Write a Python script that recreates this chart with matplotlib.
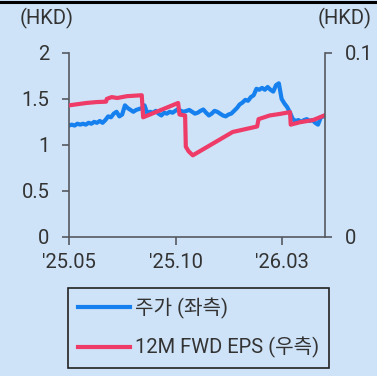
import matplotlib
matplotlib.use("Agg")
import matplotlib.pyplot as plt
from matplotlib.lines import Line2D
import pandas as pd

plt.rcParams['font.family'] = ['Roboto', 'Noto Sans CJK KR', 'DejaVu Sans']

# Share price (HKD, left axis), sampled every 4 days from 2025-05-01
price_start = "2025-05-01"
price_values = [
    1.21, 1.22, 1.21, 1.23, 1.22, 1.23, 1.22, 1.24, 1.23, 1.25,
    1.24, 1.26, 1.24, 1.27, 1.31, 1.30, 1.34, 1.36, 1.31, 1.33,
    1.43, 1.40, 1.38, 1.36, 1.38, 1.39, 1.40, 1.43, 1.34, 1.36,
    1.35, 1.37, 1.34, 1.32, 1.35, 1.34, 1.36, 1.35, 1.37, 1.39,
    1.37, 1.36, 1.37, 1.38, 1.36, 1.34, 1.35, 1.37, 1.385, 1.35,
    1.32, 1.34, 1.37, 1.36, 1.34, 1.32, 1.31, 1.33, 1.34, 1.37,
    1.40, 1.44, 1.46, 1.49, 1.48, 1.52, 1.54, 1.61, 1.60, 1.62,
    1.60, 1.63, 1.60, 1.58, 1.65, 1.67, 1.50, 1.45, 1.41, 1.35,
    1.28, 1.26, 1.27, 1.25, 1.27, 1.28, 1.26, 1.27, 1.24, 1.22,
    1.30, 1.31,
]

# 12M forward EPS (HKD, right axis)
eps_dates = [
    "2025-05-01", "2025-05-26", "2025-06-10", "2025-06-23", "2025-06-24",
    "2025-07-01", "2025-07-09", "2025-07-23", "2025-08-13", "2025-08-15",
    "2025-10-04", "2025-10-06", "2025-10-14", "2025-10-15", "2025-10-19",
    "2025-10-25", "2025-12-21", "2026-01-25", "2026-01-27", "2026-02-12",
    "2026-02-26", "2026-03-13", "2026-03-14", "2026-03-27", "2026-04-15",
    "2026-05-01",
]
eps_values = [
    0.0715, 0.0728, 0.0733, 0.0735, 0.0750,
    0.0760, 0.0755, 0.0765, 0.0770, 0.0650,
    0.0728, 0.0665, 0.0660, 0.0490, 0.0465,
    0.0443, 0.0570, 0.0600, 0.0640, 0.0660,
    0.0668, 0.0678, 0.0610, 0.0623, 0.0635,
    0.0660,
]

tick_dates = ["2025-05-01", "2025-10-01", "2026-03-01"]
tick_labels = ["'25.05", "'25.10", "'26.03"]
series_labels = ["주가 (좌측)", "12M FWD EPS (우측)"]

BG = "#cee3f8"
BLUE = "#1680ef"
PINK = "#ee3b68"
SPINE = "#555a60"
TEXT = "#333333"
FS = 14.5

price_dates = pd.date_range(price_start, periods=len(price_values), freq="4D")
eps_dt = pd.to_datetime(eps_dates)

fig = plt.figure(figsize=(3.77, 3.76), dpi=100, facecolor=BG)
ax = fig.add_axes([69 / 377, 1 - 236.7 / 376, (325 - 69) / 377, (236.7 - 53) / 376])
ax.set_facecolor(BG)
ax2 = ax.twinx()

l1, = ax.plot(price_dates, price_values, color=BLUE, lw=3.0, solid_joinstyle="round")
l2, = ax2.plot(eps_dt, eps_values, color=PINK, lw=3.0, solid_joinstyle="round")

ax.set_xlim(pd.Timestamp("2025-05-01"), pd.Timestamp("2026-05-02"))
ax.set_ylim(0, 2)
ax.set_yticks([0, 0.5, 1, 1.5, 2])
ax.set_yticklabels(["0", "0.5", "1", "1.5", "2"])
ax2.set_ylim(0, 0.1)
ax2.set_yticks([0, 0.1])
ax2.set_yticklabels(["0", "0.1"])

ax.set_xticks(pd.to_datetime(tick_dates))
ax.set_xticklabels(tick_labels)

for a in (ax, ax2):
    a.spines["top"].set_visible(False)
    for s in ("left", "right", "bottom"):
        a.spines[s].set_color(SPINE)
        a.spines[s].set_linewidth(1.2)
ax.spines["right"].set_visible(False)
ax2.spines["left"].set_visible(False)
ax2.spines["bottom"].set_visible(False)

ax.tick_params(axis="y", length=5, width=1.2, color=SPINE, pad=9, labelsize=FS, labelcolor=TEXT)
ax.tick_params(axis="x", length=6, width=1.2, color=SPINE, pad=6, labelsize=FS, labelcolor=TEXT)
ax2.tick_params(axis="y", length=5, width=1.2, color=SPINE, pad=9, labelsize=FS, labelcolor=TEXT)

fig.text(20 / 377, 1 - 18 / 376, "(HKD)", fontsize=FS, color=TEXT, ha="left", va="center")
fig.text(372 / 377, 1 - 18 / 376, "(HKD)", fontsize=FS, color=TEXT, ha="right", va="center")

fig.add_artist(Line2D([0, 1], [1 - 2 / 376, 1 - 2 / 376], color="black", lw=2.2,
                      transform=fig.transFigure))

leg = fig.legend([l1, l2], series_labels, loc="upper left",
                 bbox_to_anchor=(68 / 377, 1 - 288 / 376), borderaxespad=0,
                 fontsize=FS, frameon=True, fancybox=False, handlelength=2.6,
                 handletextpad=0.25, labelspacing=0.9, borderpad=0.48,
                 labelcolor=TEXT)
leg.get_frame().set_edgecolor("#222222")
leg.get_frame().set_linewidth(1.2)
leg.get_frame().set_facecolor(BG)
leg.get_frame().set_alpha(1)

fig.savefig("out.png", dpi=100, facecolor=BG)
